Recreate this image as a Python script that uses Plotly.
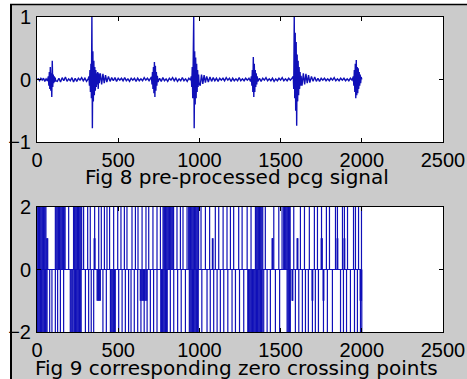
import plotly.graph_objects as go

# ---------------- data: Fig 8 pre-processed PCG signal ----------------
pcg_t = [
    0, 8, 16, 24, 32, 40, 48, 56, 64,
    70, 73, 76, 79, 82, 85, 88, 91, 94, 97, 100, 103, 106, 109, 112, 115,
    125, 135, 145, 155, 165, 175, 185, 195, 205, 215, 225, 235, 245, 255, 265, 275, 285, 295, 305, 315,
    320, 323, 326, 329, 332, 335, 338, 341, 344, 347, 350, 353, 356, 359, 362, 365, 368, 371, 374, 377, 380, 383,
    390, 398, 406, 414, 422, 430, 440, 450, 460, 470, 480, 490, 500, 510, 520, 530, 540, 550, 560, 570, 580, 590,
    600, 610, 620, 630, 640, 650, 660, 670, 680, 690, 700,
    705, 708, 711, 714, 717, 720, 723, 726, 729, 732, 735, 738, 741, 745,
    755, 765, 775, 785, 795, 805, 815, 825, 835, 845, 855, 865, 875, 885, 895, 905, 915, 925, 935, 945,
    950, 953, 956, 959, 962, 965, 968, 971, 974, 977, 980, 983, 986, 989, 992, 995, 998,
    1005, 1013, 1021, 1029, 1037, 1045, 1055, 1065, 1075, 1085, 1095, 1105, 1115, 1125, 1135, 1145, 1155,
    1165, 1175, 1185, 1195, 1205, 1215, 1225, 1235, 1245, 1255, 1265, 1275, 1285, 1295, 1305, 1315,
    1320, 1323, 1326, 1329, 1332, 1335, 1338, 1341, 1344, 1347, 1350, 1353, 1356, 1360,
    1370, 1380, 1390, 1400, 1410, 1420, 1430, 1440, 1450, 1460, 1470, 1480, 1490, 1500, 1510, 1520, 1530,
    1540, 1550, 1560, 1570,
    1578, 1581, 1584, 1587, 1590, 1593, 1596, 1599, 1602, 1605, 1608, 1611, 1614, 1617, 1620, 1623, 1626,
    1632, 1640, 1648, 1656, 1664, 1672, 1680, 1690, 1700, 1710, 1720, 1730, 1740, 1750, 1760, 1770, 1780,
    1790, 1800, 1810, 1820, 1830, 1840, 1850, 1860, 1870, 1880, 1890, 1900, 1910, 1920, 1930, 1940,
    1948, 1951, 1954, 1957, 1960, 1963, 1966, 1969, 1972, 1975, 1978, 1981, 1984, 1987, 1990, 1993, 1996, 2000,
]
pcg_amp = [
    0, 0.01, -0.02, 0.02, -0.01, 0.02, -0.03, 0.01, -0.02,
    0.05, -0.1, 0.12, -0.15, 0.2, -0.18, 0.1, -0.28, 0.3, -0.12, 0.08, -0.06, 0.05, -0.04, 0.03, -0.02,
    -0.03, 0.02, -0.04, 0.03, -0.02, 0.04, -0.03, 0.01, -0.02, 0.03, -0.04, 0.02, -0.03, 0.02, -0.01, 0.03, -0.02, 0.02, -0.03, 0.01,
    0.05, -0.1, 0.15, -0.2, 0.25, -0.3, 1.0, -0.78, 0.45, -0.35, 0.3, -0.25, 0.2, -0.18, 0.15, -0.12, 0.1, -0.08, 0.12, -0.15, 0.1, -0.06,
    0.1, -0.08, 0.09, -0.06, 0.07, -0.04, 0.05, -0.03, 0.03, -0.02, 0.03, -0.03, 0.02, -0.01, 0.02, -0.02, 0.03, -0.02, 0.01, -0.03, 0.02, -0.01,
    0.02, -0.03, 0.02, -0.02, 0.01, -0.02, 0.03, -0.01, 0.02, -0.02, 0.01,
    0.04, -0.08, 0.12, -0.15, 0.2, -0.22, 0.28, -0.28, 0.22, -0.18, 0.12, -0.1, 0.06, -0.04,
    0.02, -0.03, 0.03, -0.02, 0.01, -0.03, 0.02, -0.01, 0.03, -0.02, 0.02, -0.03, 0.01, -0.02, 0.03, -0.02, 0.01, -0.03, 0.02, -0.01,
    0.05, -0.12, 0.2, -0.3, 0.35, 1.0, -0.78, 0.45, -0.4, 0.35, -0.3, 0.25, -0.2, 0.15, -0.12, 0.08, -0.06,
    -0.1, 0.08, -0.07, 0.07, -0.05, 0.05, -0.04, 0.04, -0.03, 0.03, -0.02, 0.02, -0.03, 0.02, -0.01, 0.02, -0.02,
    0.03, -0.01, 0.02, -0.03, 0.02, -0.02, 0.01, -0.02, 0.03, -0.02, 0.01, -0.02, 0.02, -0.01, 0.02, -0.03,
    0.05, -0.1, 0.15, -0.2, 0.36, -0.28, 0.25, -0.2, 0.15, -0.12, 0.1, -0.08, 0.05, -0.03,
    0.02, -0.03, 0.02, -0.01, 0.03, -0.02, 0.01, -0.02, 0.02, -0.03, 0.01, -0.02, 0.02, -0.01, 0.03, -0.02, 0.01,
    -0.02, 0.02, -0.01, 0.02,
    0.05, -0.15, 1.0, -0.3, 0.75, -0.5, 0.6, -0.74, 0.4, -0.35, 0.3, -0.25, 0.2, -0.15, 0.12, -0.1, 0.06,
    -0.1, 0.1, -0.08, 0.09, -0.06, 0.07, -0.05, 0.05, -0.03, 0.04, -0.03, 0.02, -0.03, 0.02, -0.01, 0.02, -0.02,
    0.01, -0.02, 0.02, -0.01, 0.03, -0.02, 0.01, -0.02, 0.02, -0.01, 0.02, -0.02, 0.01, -0.02, 0.02, -0.01,
    0.05, -0.1, 0.15, -0.2, 0.25, -0.3, 0.31, -0.25, 0.2, -0.22, 0.18, -0.15, 0.12, -0.1, 0.08, -0.06, 0.04, 0,
]

# ---------------- data: Fig 9 zero crossing points ----------------
n_samples = 2000
zc_up = [
    0, 5, 10, 15, 20, 25, 30, 35, 40, 45, 50, 55,
    113, 118, 123, 128, 133, 138, 143, 148, 153, 158, 163, 168, 173, 195,
    225, 230, 235, 240, 245, 250, 255, 260, 265, 270, 275,
    287, 312, 328, 355, 380, 396, 415, 431, 447, 472, 497, 517, 538, 554, 585, 606, 622, 647, 671, 688, 714, 739, 760,
    776, 781, 786, 791, 796, 801, 806, 811, 816, 821, 826, 831, 836, 841,
    862, 883, 899, 924, 934,
    940, 945, 950, 955, 960, 965, 970, 975, 980, 985, 990, 995,
    1010, 1037, 1063, 1098, 1119, 1146, 1170, 1191, 1211, 1242, 1263, 1294, 1318,
    1345, 1350, 1355, 1360, 1365, 1370, 1375, 1380, 1385, 1390,
    1406, 1458, 1489, 1509,
    1519, 1524, 1529, 1534, 1539, 1544, 1549, 1554, 1559,
    1581, 1622, 1647, 1677, 1708, 1727, 1752, 1782, 1801, 1838, 1850, 1881, 1893, 1912, 1949, 1961, 1980, 1998,
]
zc_down = [
    2, 7, 12, 17, 22, 27, 32, 37, 42, 47, 52, 57,
    62, 78, 92, 113, 127, 144, 164,
    205, 210, 215, 220, 227, 232, 237, 242, 247, 252, 257, 262, 267, 272,
    298, 318, 334, 349, 406, 427,
    452, 457, 462, 467, 472, 477, 482,
    503, 524, 544, 564, 579, 599, 620, 640, 660, 678, 698, 718, 739,
    762, 767, 772, 777, 782, 787, 792, 797, 802,
    821, 842, 866, 888, 914, 938,
    943, 948, 953, 958, 963, 968, 973, 978, 983, 988, 993,
    1015, 1047, 1067, 1088, 1109, 1129, 1150, 1175, 1201, 1222, 1247, 1273, 1298,
    1302, 1307, 1312, 1317, 1322, 1327, 1332, 1337, 1342, 1347, 1352, 1357, 1362, 1367, 1372, 1377, 1382, 1387,
    1396, 1417, 1437, 1468, 1494,
    1540, 1545, 1550, 1555, 1560,
    1591, 1612, 1634, 1653, 1671, 1696, 1714, 1733, 1764, 1788, 1819, 1869, 1887, 1906, 1930, 1955, 1973, 1992, 2000,
]
zc_up_half = [60, 63, 66, 352, 357, 1080, 1084, 1448, 1450, 1452, 1602, 1604, 1606,
              1750, 1754, 1756, 1848, 1852, 1891, 1895]
zc_down_half = [370, 374, 378, 382, 386, 390, 636, 641, 646, 651, 656, 661, 666, 671, 676,
                1571, 1573, 1575, 1694, 1698, 1762, 1766, 1990, 1994, 1998]

x_ticks = [0, 500, 1000, 1500, 2000, 2500]
title_top = "Fig 8 pre-processed pcg signal"
title_bottom = "Fig 9 corresponding zero crossing points"

# ---------------- build figure ----------------
W, H = 467, 379
BLUE = "#1010b8"
FONT = "Liberation Sans, Arial, sans-serif"
TITLE_FONT = "DejaVu Sans, Liberation Sans, sans-serif"


def spikes(positions, level):
    xs, ys = [], []
    for p in positions:
        xs += [p, p, None]
        ys += [0, level, None]
    return xs, ys


fig = go.Figure()
fig.add_trace(go.Scatter(x=pcg_t, y=pcg_amp, mode="lines",
                         line=dict(color=BLUE, width=1.4), xaxis="x", yaxis="y",
                         showlegend=False, hoverinfo="skip"))

zx, zy = [0, n_samples, None], [0, 0, None]
for pos, lev in ((zc_up, 2), (zc_down, -2), (zc_up_half, 1), (zc_down_half, -1)):
    a, b = spikes(pos, lev)
    zx += a
    zy += b
fig.add_trace(go.Scatter(x=zx, y=zy, mode="lines", connectgaps=False,
                         line=dict(color=BLUE, width=1.2), xaxis="x2", yaxis="y2",
                         showlegend=False, hoverinfo="skip", cliponaxis=False))


def px_x(p):
    return p / W


def px_y(p):
    return 1 - p / H


axis_common = dict(showline=True, linecolor="black", linewidth=1, mirror="ticks",
                   ticks="inside", ticklen=4, tickcolor="black", showgrid=False,
                   zeroline=False, tickfont=dict(family=FONT, size=20, color="black"),
                   fixedrange=True, automargin=False)

fig.update_layout(
    width=W, height=H,
    margin=dict(l=0, r=0, t=0, b=0, pad=0),
    paper_bgcolor="#cbcbcb",
    plot_bgcolor="white",
    xaxis=dict(domain=[px_x(37), px_x(443)], range=[0, 2500], tickvals=x_ticks,
               anchor="y", ticklabelstandoff=0, **axis_common),
    yaxis=dict(domain=[px_y(142), px_y(17)], range=[-1, 1], tickvals=[-1, 0, 1],
               anchor="x", ticklabelstandoff=1, **axis_common),
    xaxis2=dict(domain=[px_x(37), px_x(443)], range=[0, 2500], tickvals=x_ticks,
                anchor="y2", ticklabelstandoff=0, **axis_common),
    yaxis2=dict(domain=[px_y(332), px_y(207)], range=[-2, 2], tickvals=[-2, 0, 2],
                anchor="x2", ticklabelstandoff=1, **axis_common),
    annotations=[
        dict(text=title_top, x=px_x(237), y=px_y(177), xref="paper", yref="paper",
             showarrow=False, xanchor="center", yanchor="middle", borderpad=0,
             font=dict(family=TITLE_FONT, size=20, color="black")),
        dict(text=title_bottom, x=px_x(236), y=px_y(368), xref="paper", yref="paper",
             showarrow=False, xanchor="center", yanchor="middle", borderpad=0,
             font=dict(family=TITLE_FONT, size=20, color="black")),
    ],
    shapes=[
        dict(type="rect", xref="paper", yref="paper", x0=0, x1=px_x(10), y0=0, y1=1,
             fillcolor="white", line=dict(width=0), layer="below"),
        dict(type="rect", xref="paper", yref="paper", x0=0, x1=1, y0=px_y(4), y1=1,
             fillcolor="white", line=dict(width=0), layer="below"),
        dict(type="line", xref="paper", yref="paper", x0=px_x(11), x1=px_x(11), y0=0, y1=px_y(4),
             line=dict(color="black", width=2)),
        dict(type="line", xref="paper", yref="paper", x0=px_x(10), x1=1, y0=px_y(4.5), y1=px_y(4.5),
             line=dict(color="black", width=1.5)),
    ],
)

fig.write_html(
    "out.html",
    config={"displayModeBar": False, "staticPlot": True},
    post_script="document.body.style.margin='0';document.body.style.padding='0';"
                "document.body.style.overflow='hidden';"
                "document.documentElement.style.overflow='hidden';",
)
